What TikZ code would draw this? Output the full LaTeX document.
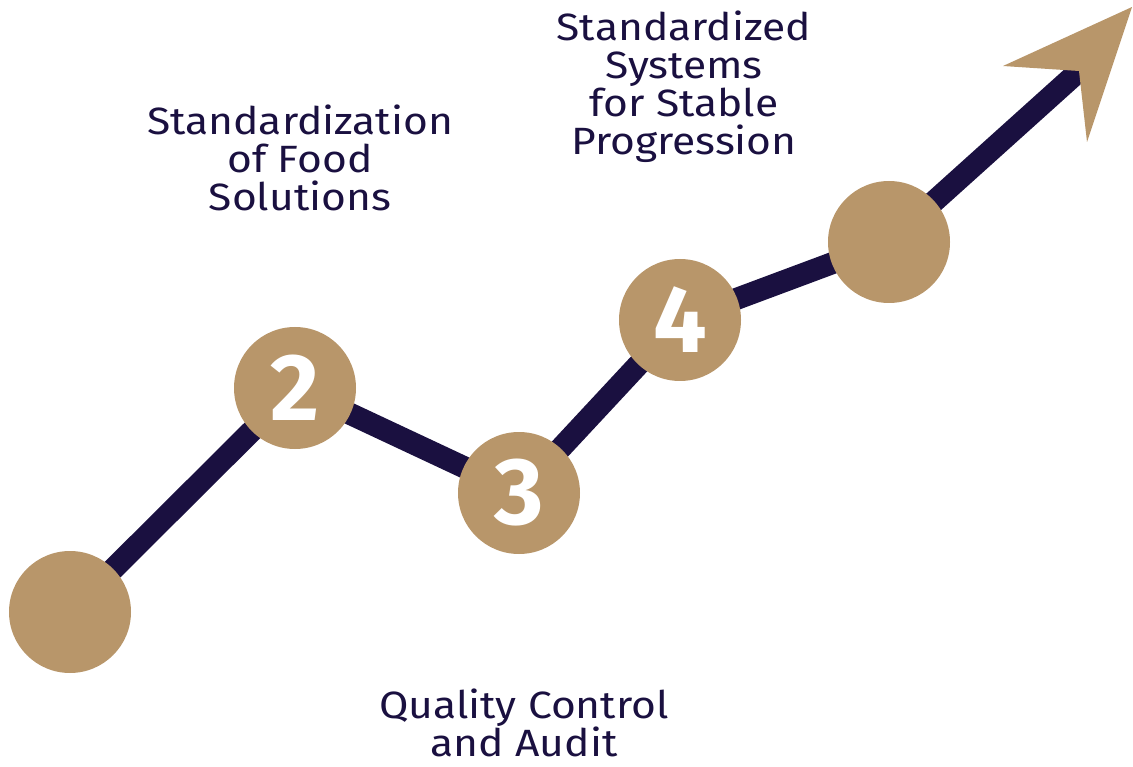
\documentclass[tikz,border=0pt]{standalone}
\usepackage{fontspec}
\setmainfont{Fira Sans}
\newfontfamily\widefont[FakeStretch=1.12]{Fira Sans}
\definecolor{navy}{HTML}{1A1040}
\definecolor{tan}{HTML}{B8966A}
\begin{document}
\begin{tikzpicture}[x=1pt,y=-1pt,
  dot/.style={circle,fill=tan,minimum size=122pt,inner sep=0pt,text=white,font=\fontsize{95}{95}\selectfont\bfseries},
  label/.style={text=navy,align=center,font=\widefont\fontsize{38}{38}\selectfont,inner sep=0pt},
  path/.style={navy,line width=22pt}]
\useasboundingbox (0,0) rectangle (1133,767);
\coordinate (c1) at (70,612);
\coordinate (c2) at (295,388);
\coordinate (c3) at (519,493);
\coordinate (c4) at (680,320);
\coordinate (c5) at (889,242);
\coordinate (notch) at (1079,71);
\draw[path] (c1) -- (c2) -- (c3) -- (c4) -- (c5) -- (notch);
\fill[tan] (1132,7) -- (1003,66) -- (notch) -- (1087,142) -- cycle;
\node[dot] (n1) at (c1) {};
\node[dot] (n2) at (c2) {2};
\node[dot] (n3) at (c3) {3};
\node[dot] (n4) at (c4) {4};
\node[dot] (n5) at (c5) {};
\node[label] (t1) at (300,158) {Standardization\\of Food\\Solutions};
\node[label] (t2) at (684,87) {Standardized\\Systems\\for Stable\\Progression};
\node[label] (t3) at (524,723) {Quality Control\\and Audit};
\end{tikzpicture}
\end{document}
